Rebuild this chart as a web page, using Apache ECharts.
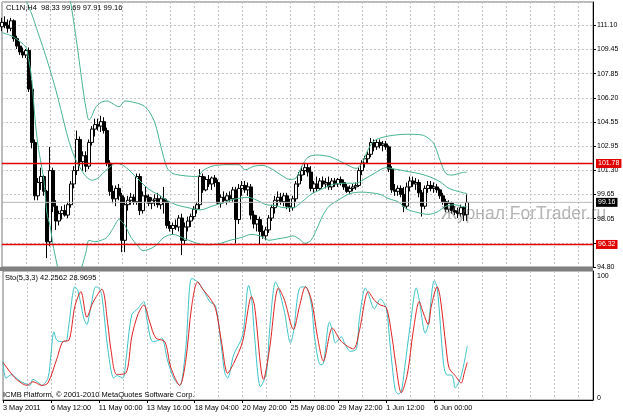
<!DOCTYPE html>
<html><head><meta charset="utf-8">
<script src="https://cdn.jsdelivr.net/npm/echarts@6.0.0/dist/echarts.min.js"></script>
<style>html,body{margin:0;padding:0;background:#fff}#c{width:623px;height:416px}</style>
</head><body><div id="c"></div>
<script>
// ---- time axis ----
const timeLabels = ['3 May 2011','6 May 12:00','11 May 00:00','13 May 16:00','18 May 04:00','20 May 20:00','25 May 08:00','29 May 22:00','1 Jun 12:00','6 Jun 00:00'];
const barsPerLabel = 16;
const barsPerGrid = 8;
const slotCount = 198;
// ---- price axis ticks ----
const priceTicks = ['94.80','96.40','98.05','99.65','101.30','102.95','104.55','106.20','107.85','109.45','111.10'];
const priceMin = 94.80, priceStep = 1.63, priceMax = 112.67;
// ---- horizontal levels ----
const levels = [101.78, 96.32];
const lastClose = 99.16;
// ---- H4 bars [open, high, low, close] ----
const bars = [
[111.0,111.6,110.7,111.3],[111.3,111.7,110.9,111.1],[111.1,111.5,110.6,110.9],[110.9,111.6,110.7,111.4],[111.4,111.5,110.0,110.2],
[110.2,110.4,109.5,109.7],[109.7,110.0,109.1,109.3],[109.3,109.6,108.9,109.1],[109.1,109.5,108.9,109.4],[109.4,109.6,106.6,106.8],
[106.8,107.4,102.8,103.2],[103.2,103.4,99.3,99.6],[99.6,100.8,99.3,100.5],[100.5,101.5,100.0,100.9],[100.9,101.0,99.6,99.9],
[99.9,100.0,95.4,96.5],[96.5,102.9,96.2,101.3],[101.3,101.5,98.5,98.9],[98.9,99.3,97.3,97.9],[97.9,98.6,97.6,98.4],
[98.4,98.9,98.0,98.6],[98.6,99.0,98.2,98.3],[98.3,99.2,98.1,99.0],[99.0,100.6,98.8,100.4],[100.4,101.6,100.1,101.3],
[101.3,104.0,101.0,103.4],[103.4,103.6,101.6,101.9],[101.9,102.6,101.3,102.3],[102.3,102.6,101.2,101.6],[101.6,103.4,101.4,103.2],
[103.2,104.3,103.0,104.1],[104.1,104.8,103.6,104.4],[104.4,104.8,104.0,104.3],[104.3,105.0,103.9,104.6],[104.6,104.9,103.8,104.0],
[104.0,104.2,101.6,101.8],[101.8,102.0,99.6,99.9],[99.9,100.3,99.1,99.4],[99.4,100.3,98.9,100.1],[100.1,100.4,99.3,99.6],
[99.6,99.8,95.8,96.6],[96.6,99.5,95.8,99.0],[99.0,99.6,98.6,99.3],[99.3,99.8,99.0,99.5],[99.5,99.7,99.0,99.2],
[99.2,101.1,99.0,100.9],[100.9,101.1,98.3,98.6],[98.6,99.9,98.4,99.6],[99.6,100.2,99.2,99.5],[99.5,99.7,98.9,99.1],
[99.1,99.5,98.7,99.3],[99.3,99.7,98.9,99.4],[99.4,99.8,98.8,99.0],[99.0,99.6,98.7,99.4],[99.4,100.2,98.4,99.2],
[99.2,99.4,97.4,97.6],[97.6,97.9,97.2,97.4],[97.4,97.8,97.0,97.6],[97.6,98.0,97.3,97.5],[97.5,98.3,97.2,98.1],
[98.1,98.4,95.6,96.6],[96.6,97.8,96.3,97.5],[97.5,98.2,97.2,97.9],[97.9,98.4,97.5,98.2],[98.2,98.9,98.0,98.7],
[98.7,99.2,98.4,99.0],[99.0,101.4,98.7,100.9],[100.9,101.1,99.8,100.0],[100.0,100.9,99.9,100.7],[100.7,101.0,100.2,100.4],
[100.4,100.9,100.0,100.8],[100.8,101.0,100.2,100.5],[100.5,100.7,99.0,99.1],[99.1,99.7,98.8,99.5],[99.5,99.9,99.1,99.3],
[99.3,99.8,99.0,99.6],[99.6,99.9,99.2,99.4],[99.4,100.2,99.2,100.0],[100.0,100.2,96.4,98.0],[98.0,100.4,97.7,100.1],
[100.1,100.6,99.6,100.3],[100.3,100.6,99.8,100.0],[100.0,100.5,99.6,100.2],[100.2,100.4,98.0,98.3],[98.3,98.6,97.4,97.7],
[97.7,98.3,97.2,98.0],[98.0,98.2,96.3,97.2],[97.2,97.6,96.7,96.9],[96.9,97.5,96.6,97.3],[97.3,98.3,97.1,98.1],
[98.1,99.0,97.9,98.8],[98.8,99.6,98.4,99.3],[99.3,99.9,98.9,99.5],[99.5,99.8,99.0,99.2],[99.2,99.8,98.9,99.6],
[99.6,99.8,98.7,98.9],[98.9,99.4,98.5,98.8],[98.8,99.6,98.6,99.4],[99.4,100.6,99.2,100.4],[100.4,101.2,100.2,101.0],
[101.0,101.6,100.6,101.3],[101.3,101.8,101.0,101.5],[101.5,101.8,100.9,101.2],[101.2,101.6,99.9,100.1],[100.1,100.6,99.8,100.4],
[100.4,100.9,99.9,100.1],[100.1,100.8,100.0,100.6],[100.6,100.9,100.2,100.4],[100.4,100.8,100.1,100.5],[100.5,100.9,100.0,100.2],
[100.2,100.8,100.0,100.6],[100.6,100.8,100.2,100.4],[100.4,100.8,100.2,100.7],[100.7,100.9,100.3,100.5],[100.5,100.7,100.0,100.2],
[100.2,100.4,99.8,99.9],[99.9,100.3,99.7,100.1],[100.1,100.4,99.9,100.2],[100.2,100.5,100.0,100.3],[100.3,101.5,100.2,101.3],
[101.3,102.0,101.0,101.8],[101.8,102.3,101.5,102.1],[102.1,102.6,101.8,102.4],[102.4,103.5,102.2,103.2],[103.2,103.4,102.6,102.9],
[102.9,103.4,102.7,103.2],[103.2,103.4,102.8,103.0],[103.0,103.3,102.6,103.1],[103.1,103.3,102.7,102.9],[102.9,103.0,101.2,101.4],
[101.4,101.6,99.8,100.0],[100.0,100.4,99.6,99.9],[99.9,100.3,99.6,100.1],[100.1,100.3,99.5,99.7],[99.7,100.2,98.5,98.9],
[98.9,100.5,98.7,100.2],[100.2,100.9,99.9,100.6],[100.6,100.9,100.2,100.4],[100.4,100.8,100.0,100.5],[100.5,100.7,99.5,99.8],
[99.8,100.0,98.2,98.9],[98.9,100.3,98.7,100.1],[100.1,100.6,99.8,100.3],[100.3,100.6,99.9,100.1],[100.1,100.5,99.8,100.2],
[100.2,100.4,99.8,100.0],[100.0,100.1,99.4,99.6],[99.6,99.8,99.0,99.2],[99.2,99.4,98.5,98.7],[98.7,99.3,98.5,99.1],
[99.1,99.2,98.4,98.6],[98.6,98.9,98.3,98.5],[98.5,98.8,98.1,98.4],[98.4,99.0,98.2,98.8],[98.8,98.9,97.9,98.3],
[98.33,99.69,97.91,99.16]
];
// ---- Bollinger bands [barIndex, value] ----
const bbUpper = [[21,114.0],[22,113.4],[23,112.5],[24,111.2],[25,109.8],[26,108.3],[27,106.8],[28,105.5],[29,104.7],[30,105.0],[31,105.5],[33,105.9],[35,106.0],[37,105.8],[39,105.6],[41,106.0],[44,105.9],[47,105.7],[49,105.3],[51,104.5],[53,102.9],[55,101.5],[57,101.1],[61,100.95],[65,100.9],[67,101.3],[70,101.6],[75,101.7],[79,101.7],[81,101.35],[84,101.6],[87,101.65],[90,101.4],[93,101.0],[96,100.7],[98,100.8],[100,101.6],[102,102.2],[105,102.35],[109,102.25],[112,102.0],[115,101.7],[118,101.45],[120,101.8],[122,102.7],[124,103.3],[127,103.55],[131,103.7],[135,103.75],[140,103.7],[142,103.5],[144,103.1],[146,102.0],[148,101.1],[150,101.0],[153,101.15],[155,101.2]];
const bbMiddle = [[7,113.2],[8,112.8],[10,111.8],[12,110.6],[14,109.4],[16,108.1],[18,106.7],[20,105.1],[22,103.5],[24,102.3],[26,101.5],[28,100.9],[30,100.65],[32,100.8],[34,101.2],[36,101.55],[38,101.8],[40,101.7],[42,101.4],[44,101.0],[46,100.6],[48,100.2],[50,99.9],[52,99.7],[55,99.3],[58,99.0],[62,98.8],[66,98.65],[70,98.9],[74,99.15],[78,99.4],[82,99.5],[85,99.3],[88,99.0],[91,98.95],[94,98.8],[97,98.8],[100,99.2],[103,99.7],[106,100.0],[110,100.35],[114,100.45],[118,100.45],[121,100.75],[124,101.1],[128,101.5],[131,101.4],[135,101.25],[139,101.1],[143,100.85],[146,100.55],[149,100.1],[152,99.9],[155,99.75]];
const bbLower = [[0,110.6],[3,110.4],[6,110.0],[8,109.6],[9,108.7],[10,107.3],[11,104.8],[12,103.0],[13,101.8],[14,100.6],[15,98.4],[16,97.6],[17,96.3],[18,95.3],[19,94.4],[20,93.6],[22,92.9],[24,93.2],[26,94.4],[28,95.8],[29,96.6],[31,96.5],[33,96.6],[35,96.8],[37,97.4],[39,98.0],[41,97.6],[43,96.8],[45,96.3],[47,95.9],[49,96.0],[51,96.2],[54,96.8],[57,97.0],[61,96.7],[65,96.4],[68,96.3],[72,96.35],[76,96.6],[80,96.8],[83,97.0],[86,96.9],[89,96.6],[92,96.7],[95,96.8],[97,96.9],[99,96.7],[101,96.4],[103,96.6],[105,97.4],[107,98.3],[109,98.9],[112,99.3],[116,99.75],[120,99.85],[123,99.8],[126,99.7],[129,99.4],[132,99.2],[135,98.7],[138,98.5],[142,98.35],[145,98.5],[148,98.9],[151,99.0],[153,98.9],[155,98.85]];
// ---- Stochastic (5,3,3) [barIndex, value] ----
const stochMain = [[0,30],[1,16],[3,19],[4,17],[6,13],[8,11],[9,10],[10,15],[12,12],[13,10],[15,16],[16,35],[17,54],[18,47],[20,46],[21,46],[22,60],[24,91],[25,88],[27,65],[28,60],[29,70],[31,91],[32,90],[33,84],[35,40],[37,16],[38,18],[40,16],[41,30],[43,68],[45,73],[47,79],[48,65],[50,46],[52,47],[53,49],[55,30],[57,16],[59,10],[61,40],[63,98],[65,95],[67,88],[69,79],[71,75],[73,40],[74,21],[75,16],[77,35],[80,51],[82,92],[83,82],[84,50],[86,9],[88,21],[89,55],[91,95],[92,90],[94,70],[96,45],[97,54],[99,90],[101,91],[103,76],[104,50],[106,27],[107,28],[109,62],[110,55],[111,45],[113,50],[114,45],[116,38],[118,40],[119,65],[121,90],[122,85],[124,73],[126,81],[128,73],[129,50],[130,25],[131,6],[132,3],[133,5],[134,22],[136,60],[138,90],[139,80],[141,53],[142,60],[144,96],[145,90],[147,30],[148,19],[150,18],[151,8],[153,18],[155,42.26]];
const stochSignal = [[0,29],[3,19],[5,14],[8,10],[10,13],[13,10],[15,12],[18,32],[20,46],[22,47],[24,75],[26,87],[28,66],[30,78],[33,89],[35,60],[36,40],[38,19],[41,20],[43,50],[45,68],[47,76],[49,62],[51,49],[54,46],[56,25],[59,10],[61,30],[63,75],[65,95],[67,88],[69,82],[71,73],[73,45],[75,20],[77,28],[80,46],[83,83],[84,75],[87,15],[89,40],[92,90],[94,80],[97,56],[99,75],[101,91],[103,80],[105,50],[107,30],[110,57],[113,46],[117,40],[119,55],[122,87],[124,80],[126,76],[128,74],[130,48],[131,30],[133,4],[135,19],[137,55],[139,79],[140,72],[142,60],[143,75],[145,91],[146,82],[148,40],[149,24],[151,18],[153,12],[154,20],[155,28.97]];

const FONT = 'Liberation Sans';
const categories = Array.from({length: slotCount}, (_, i) => String(i));
const candleData = bars.map(b => [b[0], b[3], b[2], b[1]]);
const bandColor = '#48b48e';
const levelColor = '#e00000';
const gridLine = {show: true, lineStyle: {color: '#c4c4c4', type: [2, 2], width: 1}};
const levelLabel = (txt, bg) => ({show: true, position: 'end', distance: 2, formatter: txt, color: '#fff', backgroundColor: bg, padding: [1, 2, 1, 2], fontFamily: FONT, fontSize: 7});
const levelSeries = (val, color, bg, w) => ({
  type: 'line', xAxisIndex: 0, yAxisIndex: 0, z: 4, silent: true, showSymbol: false, color: color,
  data: [[0, val], [slotCount - 1, val]],
  lineStyle: {color: color, width: w, type: 'solid'},
  endLabel: Object.assign(levelLabel(val.toFixed(2), bg), {distance: 3})
});

const chart = echarts.init(document.getElementById('c'));
chart.setOption({
  animation: false,
  backgroundColor: '#fff',
  grid: [
    {left: 2, right: 30, top: 2, height: 265, show: true, borderColor: '#777', borderWidth: 1},
    {left: 2, right: 30, top: 271, height: 129, show: true, borderColor: '#777', borderWidth: 1}
  ],
  xAxis: [
    {type: 'category', gridIndex: 0, data: categories, boundaryGap: false,
     axisLine: {show: false, onZero: false}, axisTick: {show: false}, axisLabel: {show: false},
     splitLine: Object.assign({interval: (i) => i % barsPerGrid === 0 && i > 0}, gridLine)},
    {type: 'category', gridIndex: 1, data: categories, boundaryGap: false,
     axisLine: {show: true, onZero: false, lineStyle: {color: '#000'}},
     axisTick: {show: true, length: 3, lineStyle: {color: '#000'}, interval: (i) => i % barsPerLabel === 0 && i / barsPerLabel < timeLabels.length},
     axisLabel: {interval: (i) => i % barsPerLabel === 0 && i / barsPerLabel < timeLabels.length,
       formatter: (v, i) => timeLabels[i / barsPerLabel] || '', align: 'left', margin: 4,
       fontFamily: FONT, fontSize: 7.3, color: '#000'},
     splitLine: Object.assign({interval: (i) => i % barsPerGrid === 0 && i > 0}, gridLine)}
  ],
  yAxis: [
    {type: 'value', gridIndex: 0, position: 'right', min: priceMin, max: priceMax, interval: priceStep,
     axisLine: {show: true, lineStyle: {color: '#000'}},
     axisTick: {show: true, length: 3, lineStyle: {color: '#000'}},
     axisLabel: {margin: 4, fontFamily: FONT, fontSize: 7, color: '#000', showMaxLabel: false,
       formatter: (v) => { const k = Math.round((v - priceMin) / priceStep); return Math.abs(v - (priceMin + k * priceStep)) < 0.01 ? (priceTicks[k] || '') : ''; }},
     splitLine: gridLine},
    {type: 'value', gridIndex: 1, position: 'right', min: -2, max: 104, interval: 2,
     axisLine: {show: true, lineStyle: {color: '#000'}},
     axisTick: {show: false},
     axisLabel: {margin: 4, fontFamily: FONT, fontSize: 7, color: '#000',
       formatter: (v) => (Math.abs(v) < 1e-6 ? '0' : (Math.abs(v - 100) < 1e-6 ? '100' : ''))},
     splitLine: {show: false}}
  ],
  series: [
    {type: 'candlestick', xAxisIndex: 0, yAxisIndex: 0, data: candleData, barWidth: 3,
     itemStyle: {color: '#fff', color0: '#000', borderColor: '#000', borderColor0: '#000', borderWidth: 1}},
    {type: 'line', xAxisIndex: 0, yAxisIndex: 0, data: bbUpper, showSymbol: false, smooth: 0.3, lineStyle: {color: bandColor, width: 1}, z: 3},
    {type: 'line', xAxisIndex: 0, yAxisIndex: 0, data: bbMiddle, showSymbol: false, smooth: 0.3, lineStyle: {color: bandColor, width: 1}, z: 3},
    {type: 'line', xAxisIndex: 0, yAxisIndex: 0, data: bbLower, showSymbol: false, smooth: 0.3, lineStyle: {color: bandColor, width: 1}, z: 3},
    levelSeries(levels[0], levelColor, levelColor, 1.6),
    levelSeries(levels[1], levelColor, levelColor, 1.6),
    levelSeries(lastClose, '#b8b8b8', '#000', 1),
    {type: 'line', xAxisIndex: 1, yAxisIndex: 1, data: stochMain, showSymbol: false, smooth: 0.3, lineStyle: {color: '#3cc4c8', width: 1}},
    {type: 'line', xAxisIndex: 1, yAxisIndex: 1, data: stochSignal, showSymbol: false, smooth: 0.3, lineStyle: {color: '#e02020', width: 1}}
  ],
  graphic: [
    {type: 'rect', left: 0, top: 267, shape: {width: 593, height: 4}, style: {fill: '#808080'}, z: 50},
    {type: 'text', left: 6, top: 4, z: 60, style: {text: 'CL1N,H4  98.33 99.69 97.91 99.16', font: '7.5px "Liberation Sans"', fill: '#000'}},
    {type: 'text', left: 5, top: 274, z: 60, style: {text: 'Sto(5,3,3) 42.2562 28.9695', font: '7.5px "Liberation Sans"', fill: '#000'}},
    {type: 'text', left: 3, top: 391, z: 60, style: {text: 'ICMB Platform, \u00a9 2001-2010 MetaQuotes Software Corp.', font: '7.5px "Liberation Sans"', fill: '#000'}},
    {type: 'text', left: 441, top: 205, z: 60, style: {text: 'Журнал ForTrader.ru', font: '17.5px "Liberation Sans"', fill: 'rgba(110,110,110,0.5)'}}
  ]
});
</script></body></html>
